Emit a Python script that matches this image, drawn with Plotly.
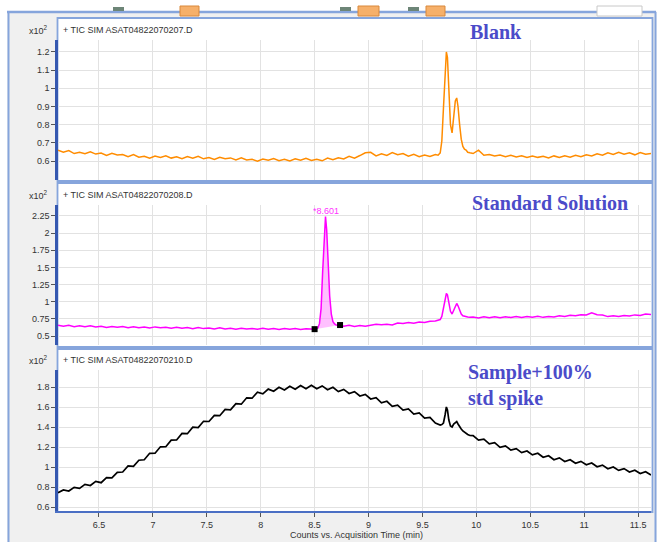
import plotly.graph_objects as go

# ---------------- data ----------------
grid_time = [
    6.12, 6.17, 6.22, 6.27, 6.32, 6.37, 6.42, 6.47, 6.52, 6.57,
    6.62, 6.67, 6.72, 6.77, 6.82, 6.87, 6.92, 6.97, 7.02, 7.07,
    7.12, 7.17, 7.22, 7.27, 7.32, 7.37, 7.42, 7.47, 7.52, 7.57,
    7.62, 7.67, 7.72, 7.77, 7.82, 7.87, 7.92, 7.97, 8.02, 8.07,
    8.12, 8.17, 8.22, 8.27, 8.32, 8.37, 8.42, 8.47, 8.52, 8.57,
    8.62, 8.67, 8.72, 8.77, 8.82, 8.87, 8.92, 8.97, 9.02, 9.07,
    9.12, 9.17, 9.22, 9.27, 9.32, 9.37, 9.42, 9.47, 9.52, 9.57,
    9.62, 9.67, 9.72, 9.77, 9.82, 9.87, 9.92, 9.97, 10.02, 10.07,
    10.12, 10.17, 10.22, 10.27, 10.32, 10.37, 10.42, 10.47, 10.52, 10.57,
    10.62, 10.67, 10.72, 10.77, 10.82, 10.87, 10.92, 10.97, 11.02, 11.07,
    11.12, 11.17, 11.22, 11.27, 11.32, 11.37, 11.42, 11.47, 11.52, 11.57, 11.62,
]

# None = that stretch is covered by the detailed peak arrays below
blank_grid_signal = [
    0.660, 0.648, 0.657, 0.641, 0.648, 0.640, 0.651, 0.638, 0.644, 0.631,
    0.642, 0.633, 0.636, 0.624, 0.635, 0.621, 0.626, 0.615, 0.627, 0.620,
    0.629, 0.616, 0.623, 0.613, 0.625, 0.615, 0.626, 0.612, 0.619, 0.609,
    0.621, 0.613, 0.617, 0.606, 0.617, 0.606, 0.609, 0.599, 0.611, 0.604,
    0.613, 0.602, 0.609, 0.600, 0.612, 0.604, 0.615, 0.603, 0.610, 0.601,
    0.616, 0.607, 0.618, 0.611, 0.626, 0.616, 0.630, 0.645, 0.648, 0.628,
    0.640, 0.631, 0.646, 0.634, 0.641, 0.627, 0.637, 0.624, 0.633, 0.625,
    0.636, None, None, None, None, None, None, 0.641, 0.660, 0.632,
    0.636, 0.627, 0.633, 0.624, 0.631, 0.622, 0.629, 0.619, 0.627, 0.620,
    0.626, 0.617, 0.628, 0.619, 0.629, 0.621, 0.631, 0.623, 0.634, 0.628,
    0.640, 0.632, 0.645, 0.636, 0.648, 0.637, 0.645, 0.634, 0.647, 0.637, 0.641,
]
blank_peak_time = [9.645, 9.665, 9.68, 9.695, 9.71, 9.722, 9.732, 9.745, 9.76, 9.775, 9.79,
                   9.805, 9.818, 9.83, 9.845, 9.86, 9.875, 9.89, 9.905, 9.92, 9.94]
blank_peak_signal = [0.632, 0.645, 0.71, 0.89, 1.10, 1.20, 1.17, 0.99, 0.80, 0.755, 0.83,
                     0.93, 0.947, 0.90, 0.80, 0.72, 0.68, 0.665, 0.66, 0.648, 0.645]

std_grid_signal = [
    0.657, 0.641, 0.655, 0.637, 0.650, 0.636, 0.648, 0.631, 0.642, 0.625,
    0.640, 0.628, 0.637, 0.621, 0.636, 0.620, 0.631, 0.617, 0.633, 0.619,
    0.629, 0.612, 0.627, 0.612, 0.623, 0.607, 0.624, 0.608, 0.618, 0.603,
    0.619, 0.604, 0.613, 0.600, 0.614, 0.601, 0.611, 0.597, 0.612, 0.598,
    0.610, 0.596, 0.609, 0.597, 0.608, 0.596, 0.607, 0.598, None, None,
    None, None, None, 0.644, 0.655, 0.640, 0.652, 0.642, 0.660, 0.672,
    0.663, 0.670, 0.660, 0.688, 0.681, 0.697, 0.686, 0.704, 0.697, 0.716,
    0.718, None, None, None, None, None, None, 0.778, 0.764, 0.779,
    0.765, 0.781, 0.767, 0.782, 0.769, 0.785, 0.771, 0.786, 0.773, 0.788,
    0.772, 0.786, 0.777, 0.794, 0.784, 0.801, 0.794, 0.811, 0.806, 0.840,
    0.809, 0.805, 0.783, 0.795, 0.784, 0.800, 0.791, 0.808, 0.798, 0.820, 0.814,
]
std_peak1_time = [8.49, 8.50, 8.515, 8.53, 8.545, 8.56, 8.575, 8.59, 8.601, 8.612,
                  8.625, 8.64, 8.655, 8.67, 8.685, 8.70, 8.72, 8.736, 8.75]
std_peak1_signal = [0.604, 0.600, 0.606, 0.618, 0.68, 0.90, 1.45, 2.00, 2.24, 2.05,
                    1.55, 1.08, 0.82, 0.71, 0.675, 0.662, 0.658, 0.660, 0.652]
std_peak2_time = [9.645, 9.665, 9.68, 9.695, 9.71, 9.722, 9.732, 9.745, 9.76, 9.775, 9.79,
                  9.805, 9.818, 9.83, 9.845, 9.86, 9.875, 9.89, 9.905, 9.92, 9.94]
std_peak2_signal = [0.728, 0.74, 0.785, 0.92, 1.06, 1.12, 1.10, 0.98, 0.86, 0.82, 0.88,
                    0.95, 0.975, 0.94, 0.87, 0.82, 0.795, 0.785, 0.78, 0.776, 0.772]
std_peak_rt = 8.601
std_integration_start = 8.50
std_integration_end = 8.736

sample_grid_signal = [
    0.742, 0.771, 0.760, 0.797, 0.786, 0.826, 0.815, 0.856, 0.843, 0.894,
    0.892, 0.947, 0.950, 1.010, 1.006, 1.068, 1.072, 1.137, 1.138, 1.202,
    1.203, 1.268, 1.270, 1.336, 1.333, 1.398, 1.394, 1.457, 1.455, 1.516,
    1.513, 1.575, 1.571, 1.633, 1.628, 1.692, 1.688, 1.748, 1.732, 1.779,
    1.757, 1.797, 1.770, 1.808, 1.778, 1.815, 1.783, 1.817, 1.782, 1.811,
    1.772, 1.797, 1.754, 1.776, 1.735, 1.753, 1.710, 1.726, 1.680, 1.693,
    1.642, 1.657, 1.606, 1.619, 1.569, 1.581, 1.530, 1.540, 1.490, 1.495,
    1.440, None, None, None, None, None, None, 1.314, 1.268, 1.279,
    1.232, 1.243, 1.196, 1.211, 1.169, 1.184, 1.144, 1.160, 1.121, 1.137,
    1.097, 1.113, 1.073, 1.091, 1.055, 1.072, 1.037, 1.056, 1.023, 1.040,
    1.003, 1.019, 0.983, 1.000, 0.966, 0.984, 0.950, 0.968, 0.935, 0.953, 0.920,
]
sample_peak_time = [9.645, 9.665, 9.68, 9.695, 9.71, 9.722, 9.732, 9.745, 9.76, 9.775, 9.79,
                    9.805, 9.818, 9.83, 9.845, 9.86, 9.875, 9.89, 9.905, 9.92, 9.94]
sample_peak_signal = [1.43, 1.42, 1.425, 1.44, 1.52, 1.60, 1.57, 1.47, 1.41, 1.40, 1.43,
                      1.44, 1.455, 1.43, 1.40, 1.38, 1.36, 1.345, 1.335, 1.325, 1.315]

panel_files = ["+ TIC SIM ASAT04822070207.D", "+ TIC SIM ASAT04822070208.D",
               "+ TIC SIM ASAT04822070210.D"]
panel_titles = ["<b>Blank</b>", "<b>Standard Solution</b>", "<b>Sample+100%<br>std spike</b>"]

x_tick_vals = [6.5, 7, 7.5, 8, 8.5, 9, 9.5, 10, 10.5, 11, 11.5]
x_tick_text = ["6.5", "7", "7.5", "8", "8.5", "9", "9.5", "10", "10.5", "11", "11.5"]
y1_tick_vals = [0.6, 0.7, 0.8, 0.9, 1.0, 1.1, 1.2]
y1_tick_text = ["0.6", "0.7", "0.8", "0.9", "1", "1.1", "1.2"]
y2_tick_vals = [0.5, 0.75, 1.0, 1.25, 1.5, 1.75, 2.0, 2.25]
y2_tick_text = ["0.5", "0.75", "1", "1.25", "1.5", "1.75", "2", "2.25"]
y3_tick_vals = [0.6, 0.8, 1.0, 1.2, 1.4, 1.6, 1.8]
y3_tick_text = ["0.6", "0.8", "1", "1.2", "1.4", "1.6", "1.8"]


def merge(grid_vals, *peaks):
    pts = [(t, v) for t, v in zip(grid_time, grid_vals) if v is not None]
    for pt, pv in peaks:
        pts += list(zip(pt, pv))
    pts.sort(key=lambda p: p[0])
    return [p[0] for p in pts], [p[1] for p in pts]


blank_t, blank_v = merge(blank_grid_signal, (blank_peak_time, blank_peak_signal))
std_t, std_v = merge(std_grid_signal, (std_peak1_time, std_peak1_signal),
                     (std_peak2_time, std_peak2_signal))
sample_t, sample_v = merge(sample_grid_signal, (sample_peak_time, sample_peak_signal))

# integrated area of the 8.601 peak
fill_t = [t for t in std_peak1_time if std_integration_start <= t <= std_integration_end]
fill_v = [v for t, v in zip(std_peak1_time, std_peak1_signal)
          if std_integration_start <= t <= std_integration_end]

# ---------------- figure ----------------
W, H = 658, 542


def px(x):
    return x / W


def py(y):
    return 1 - y / H


fig = go.Figure()
fig.add_trace(go.Scatter(x=blank_t, y=blank_v, mode="lines",
                         line=dict(color="#ff8c00", width=1.5), xaxis="x", yaxis="y"))
fig.add_trace(go.Scatter(x=fill_t, y=fill_v, mode="lines", fill="toself",
                         fillcolor="rgba(255,140,255,0.55)", line=dict(width=0),
                         xaxis="x2", yaxis="y2"))
fig.add_trace(go.Scatter(x=std_t, y=std_v, mode="lines",
                         line=dict(color="#ff00ff", width=1.5), xaxis="x2", yaxis="y2"))
fig.add_trace(go.Scatter(x=[fill_t[0], fill_t[-1]], y=[fill_v[0], fill_v[-1]], mode="markers",
                         marker=dict(symbol="square", size=6, color="black"),
                         xaxis="x2", yaxis="y2"))
fig.add_trace(go.Scatter(x=sample_t, y=sample_v, mode="lines",
                         line=dict(color="black", width=1.7), xaxis="x3", yaxis="y3"))

x_dom = [px(58), px(651)]
panels = [(40, 180), (205, 345), (370, 511)]
y_ranges = [[0.4954, 1.266], [0.369, 2.410], [0.56, 1.97]]
y_ticks = [(y1_tick_vals, y1_tick_text), (y2_tick_vals, y2_tick_text), (y3_tick_vals, y3_tick_text)]

tick_font = dict(family="Liberation Sans, Arial, sans-serif", size=9, color="#333333")
layout = dict(
    width=W, height=H, margin=dict(l=0, r=0, t=0, b=0),
    paper_bgcolor="#f0f0f0", plot_bgcolor="white", showlegend=False,
)
for k in range(3):
    sfx = "" if k == 0 else str(k + 1)
    top, bot = panels[k]
    layout["xaxis" + sfx] = dict(
        domain=x_dom, range=[6.12, 11.62], anchor="y" + sfx,
        tickvals=x_tick_vals, ticktext=x_tick_text,
        showticklabels=(k == 2), ticks="outside" if k == 2 else "",
        ticklen=4, tickcolor="#555555", tickfont=tick_font,
        showgrid=True, gridcolor="#e2e2e2", gridwidth=1.2,
        showline=(k == 2), linecolor="#4a6fc4", linewidth=2,
        zeroline=False, fixedrange=True,
    )
    layout["yaxis" + sfx] = dict(
        domain=[py(bot), py(top)], range=y_ranges[k], anchor="x" + sfx,
        tickvals=y_ticks[k][0], ticktext=y_ticks[k][1],
        ticks="outside", ticklen=4, tickcolor="#555555", tickfont=tick_font,
        showgrid=True, gridcolor="#e2e2e2", gridwidth=1.2,
        showline=True, linecolor="#3558b0", linewidth=2.5,
        zeroline=False, fixedrange=True,
    )
fig.update_layout(**layout)

shapes = []
border = "#86a5dc"
# window chrome
shapes.append(dict(type="rect", xref="paper", yref="paper", x0=0, x1=1, y0=py(11), y1=1,
                   fillcolor="white", line=dict(width=0), layer="below"))
shapes.append(dict(type="rect", xref="paper", yref="paper", x0=0, x1=px(7), y0=0, y1=1,
                   fillcolor="white", line=dict(width=0), layer="below"))
shapes.append(dict(type="rect", xref="paper", yref="paper", x0=px(656.5), x1=1, y0=0, y1=1,
                   fillcolor="white", line=dict(width=0), layer="below"))
shapes.append(dict(type="line", xref="paper", yref="paper", x0=px(7), x1=px(656), y0=py(12), y1=py(12),
                   line=dict(color=border, width=2.5)))
shapes.append(dict(type="line", xref="paper", yref="paper", x0=px(8.5), x1=px(8.5), y0=0, y1=py(12),
                   line=dict(color=border, width=2)))
shapes.append(dict(type="line", xref="paper", yref="paper", x0=px(655.5), x1=px(655.5), y0=0, y1=py(12),
                   line=dict(color=border, width=2)))
# toolbar bits
for x0, x1 in [(180, 199), (358, 379), (426, 445)]:
    shapes.append(dict(type="rect", xref="paper", yref="paper", x0=px(x0), x1=px(x1),
                       y0=py(16), y1=py(6), fillcolor="#f6b06a",
                       line=dict(color="#d9883a", width=1)))
for x0, x1 in [(113, 124), (340, 351), (408, 419)]:
    shapes.append(dict(type="rect", xref="paper", yref="paper", x0=px(x0), x1=px(x1),
                       y0=py(11), y1=py(7), fillcolor="#6d8577", line=dict(width=0)))
shapes.append(dict(type="rect", xref="paper", yref="paper", x0=px(597), x1=px(642),
                   y0=py(16), y1=py(6), fillcolor="white", line=dict(color="#c8c8c8", width=1)))
# panel boxes
for y0, y1 in [(18, 181), (183, 347), (349, 512)]:
    shapes.append(dict(type="rect", xref="paper", yref="paper", x0=px(57.5), x1=px(652.5),
                       y0=py(y1), y1=py(y0), fillcolor="white",
                       line=dict(color=border, width=1.8), layer="below"))
fig.update_layout(shapes=shapes)

ann = []
header_y = [30, 195, 360]
for k in range(3):
    ann.append(dict(xref="paper", yref="paper", x=px(61), y=py(header_y[k]), text=panel_files[k],
                    showarrow=False, xanchor="left", yanchor="middle",
                    font=dict(family="Liberation Sans, Arial, sans-serif", size=9, color="#333333")))
    ann.append(dict(xref="paper", yref="paper", x=px(50), y=py(header_y[k]), text="x10<sup>2</sup>",
                    showarrow=False, xanchor="right", yanchor="middle",
                    font=dict(family="Liberation Sans, Arial, sans-serif", size=9, color="#333333")))
title_font = dict(family="Liberation Serif, Times New Roman, serif", size=20, color="#4b4bc9")
ann.append(dict(xref="paper", yref="paper", x=px(496), y=py(32), text=panel_titles[0],
                showarrow=False, xanchor="center", yanchor="middle", font=title_font))
ann.append(dict(xref="paper", yref="paper", x=px(550), y=py(203), text=panel_titles[1],
                showarrow=False, xanchor="center", yanchor="middle", font=title_font))
ann.append(dict(xref="paper", yref="paper", x=px(466), y=py(385), text=panel_titles[2],
                showarrow=False, xanchor="left", yanchor="middle", align="left", font=title_font))
ann.append(dict(xref="x2", yref="y2", x=std_peak_rt, y=2.32, text="*%.3f" % std_peak_rt,
                showarrow=False, xanchor="center", yanchor="middle",
                font=dict(family="Liberation Sans, Arial, sans-serif", size=9, color="#ff33ff")))
ann.append(dict(xref="paper", yref="paper", x=px(356), y=py(535),
                text="Counts vs. Acquisition Time (min)", showarrow=False,
                xanchor="center", yanchor="middle",
                font=dict(family="Liberation Sans, Arial, sans-serif", size=9, color="#333333")))
fig.update_layout(annotations=ann)

fig.write_html("out.html", config={"displayModeBar": False})
